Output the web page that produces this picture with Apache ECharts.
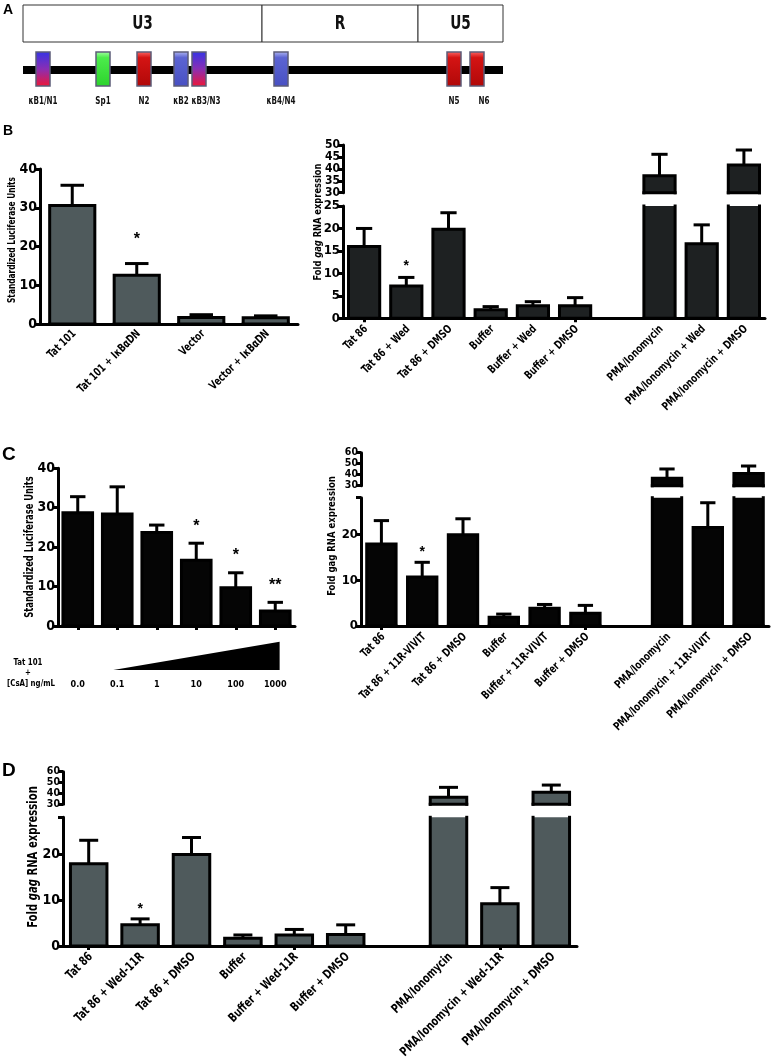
<!DOCTYPE html>
<html>
<head>
<meta charset="utf-8">
<script src="https://cdn.jsdelivr.net/npm/echarts@6/dist/echarts.min.js"></script>
<style>
  html, body { margin: 0; padding: 0; background: #fff; }
  #main { width: 772px; height: 1057px; }
</style>
</head>
<body>
<div id="main"></div>
<script>
const FONT = "'Liberation Sans Narrow', 'DejaVu Sans Condensed', 'Arial Narrow', Arial, sans-serif"
const NARROW = 0.82 // squeeze factor, the original uses a condensed face

// ---- A: LTR map (positions along the LTR, arbitrary units) ----
const ltrRegions = ['U3', 'R', 'U5']
const ltrStarts = [0, 239, 395]
const ltrEnds = [239, 395, 480]
const siteNames = ['κB1/N1', 'Sp1', 'N2', 'κB2', 'κB3/N3', 'κB4/N4', 'N5', 'N6']
const sitePos = [20, 80, 121, 158, 176, 258, 431, 454]
const siteKind = ['mix', 'sp1', 'nfat', 'kb', 'mix', 'kb', 'nfat', 'nfat']

// ---- B left ----
const bLeftCats = ['Tat 101', 'Tat 101 + IκBαDN', 'Vector', 'Vector + IκBαDN']
const bLeftMean = [30.6, 12.6, 1.7, 1.6]
const bLeftErr = [35.8, 15.6, 2.4, 2.1]
const bLeftSig = ['', '*', '', '']

// ---- B right ----
const bRightCats = ['Tat 86', 'Tat 86 + Wed', 'Tat 86 + DMSO', 'Buffer', 'Buffer + Wed', 'Buffer + DMSO', '', 'PMA/Ionomycin', 'PMA/Ionomycin + Wed', 'PMA/Ionomycin + DMSO']
const bRightMean = [16.0, 7.2, 19.8, 1.9, 2.8, 2.8, null, 37.1, 16.6, 41.6]
const bRightErr = [20.0, 9.1, 23.5, 2.6, 3.7, 4.6, null, 46.1, 20.8, 47.9]
const bRightSig = ['', '*', '', '', '', '', '', '', '', '']

// ---- C left (CsA dose) ----
const cLeftDoses = ['0.0', '0.1', '1', '10', '100', '1000']
const cLeftMean = [28.7, 28.4, 23.7, 16.7, 9.7, 3.8]
const cLeftErr = [32.8, 35.3, 25.6, 21.0, 13.5, 6.0]
const cLeftSig = ['', '', '', '*', '*', '**']
const rampFrom = 1
const rampTo = 5

// ---- C right ----
const cRightCats = ['Tat 86', 'Tat 86 + 11R-VIVIT', 'Tat 86 + DMSO', 'Buffer', 'Buffer + 11R-VIVIT', 'Buffer + DMSO', '', 'PMA/Ionomycin', 'PMA/Ionomycin + 11R-VIVIT', 'PMA/Ionomycin + DMSO']
const cRightMean = [17.9, 10.7, 19.9, 1.9, 3.9, 2.8, null, 36.7, 21.5, 41.2]
const cRightErr = [23.0, 13.9, 23.4, 2.6, 4.7, 4.5, null, 45.2, 26.9, 47.9]
const cRightSig = ['', '*', '', '', '', '', '', '', '', '']

// ---- D ----
const dCats = ['Tat 86', 'Tat 86 + Wed-11R', 'Tat 86 + DMSO', 'Buffer', 'Buffer + Wed-11R', 'Buffer + DMSO', '', 'PMA/Ionomycin', 'PMA/Ionomycin + Wed-11R', 'PMA/Ionomycin + DMSO']
const dMean = [17.9, 4.6, 19.9, 1.7, 2.4, 2.5, null, 36.4, 9.2, 41.0]
const dErr = [23.0, 5.9, 23.6, 2.4, 3.6, 4.6, null, 45.6, 12.7, 47.7]
const dSig = ['', '*', '', '', '', '', '', '', '', '']

const siteFill = {
  mix: [['0', '#3434e6'], ['0.5', '#8a2eb4'], ['1', '#f01634']],
  sp1: [['0', '#a8ffa8'], ['0.18', '#4cec4c'], ['1', '#2cd22c']],
  nfat: [['0', '#ff6a6a'], ['0.18', '#d41414'], ['1', '#b00808']],
  kb: [['0', '#b4baf4'], ['0.18', '#5c64d2'], ['1', '#4850c2']]
}
const grad = (stops) => ({
  type: 'linear', x: 0, y: 0, x2: 0, y2: 1,
  colorStops: stops.map(s => ({ offset: +s[0], color: s[1] }))
})

const chart = echarts.init(document.getElementById('main'), null, { renderer: 'canvas' })

function barItem(sigs, labels, opt) {
  return function (params, api) {
    const i = api.value(0)
    const cs = params.coordSys
    const top = cs.y, bot = cs.y + cs.height
    const base = api.coord([i, 0])
    const cx = base[0]
    const yb = base[1]
    const kids = []
    if (labels && labels[params.dataIndex]) {
      kids.push({
        type: 'text', x: cx + 2, y: yb + opt.labelGap, rotation: Math.PI / 4, scaleX: NARROW,
        style: { text: labels[params.dataIndex], align: 'right', verticalAlign: 'middle',
          fontFamily: FONT, fontWeight: 'bold', fontSize: opt.labelSize, fill: '#000' }
      })
    }
    const v = api.value(1)
    if (isNaN(v)) return { type: 'group', children: kids }
    const e = api.value(2)
    const w = api.size([1, 0])[0] * opt.ratio
    const yv = api.coord([i, v])[1]
    const ye = api.coord([i, e])[1]
    const L = cx - w / 2, R = cx + w / 2
    const ln = { stroke: '#000', lineWidth: opt.border, lineCap: 'square', lineJoin: 'miter' }
    const s0 = Math.max(yv, top), s1 = Math.min(yb, bot)
    if (s1 > s0) {
      kids.push({ type: 'rect', shape: { x: L, y: s0, width: w, height: s1 - s0 }, style: { fill: opt.color } })
      if (yv >= top) {
        kids.push({ type: 'polyline', shape: { points: [[L, s1], [L, yv], [R, yv], [R, s1]] }, style: Object.assign({ fill: null }, ln) })
      } else {
        kids.push({ type: 'line', shape: { x1: L, y1: s0, x2: L, y2: s1 }, style: ln })
        kids.push({ type: 'line', shape: { x1: R, y1: s0, x2: R, y2: s1 }, style: ln })
      }
      kids.push({ type: 'line', shape: { x1: L, y1: s1, x2: R, y2: s1 }, style: ln })
    }
    const e0 = Math.max(ye, top), e1 = Math.min(yv, bot)
    if (e1 > e0) {
      kids.push({ type: 'line', shape: { x1: cx, y1: e0, x2: cx, y2: e1 }, style: { stroke: '#000', lineWidth: opt.errW } })
    }
    if (ye >= top && ye <= bot) {
      kids.push({ type: 'line', shape: { x1: cx - w * 0.26, y1: ye, x2: cx + w * 0.26, y2: ye }, style: { stroke: '#000', lineWidth: opt.errW } })
      const s = sigs[params.dataIndex]
      if (s) {
        kids.push({ type: 'text', style: { text: s, x: cx, y: ye - opt.starGap, align: 'center', verticalAlign: 'middle', fontSize: opt.starSize, fontWeight: 'bold', fontFamily: 'Arial, sans-serif', fill: '#000' } })
      }
    }
    return { type: 'group', children: kids }
  }
}

function barSeries(gridIdx, means, errs, sigs, labels, opt) {
  return {
    type: 'custom',
    xAxisIndex: gridIdx, yAxisIndex: gridIdx,
    clip: false,
    renderItem: barItem(sigs, labels, opt),
    encode: { x: 0, y: 1 },
    data: means.map((m, i) => [i, m == null ? NaN : m, errs[i] == null ? NaN : errs[i]])
  }
}

function yAx(grid, min, max, interval, fontSize, labelExtra) {
  return {
    type: 'value', gridIndex: grid, min: min, max: max, interval: interval,
    axisLine: { show: true, lineStyle: { color: '#000', width: 3 } },
    axisTick: { show: true, length: 5, interval: 0, lineStyle: { color: '#000', width: 3 } },
    axisLabel: Object.assign({ color: '#000', fontFamily: FONT, fontWeight: 'bold', fontSize: fontSize, margin: 3,
      interval: 0, showMinLabel: true, showMaxLabel: true, hideOverlap: false }, labelExtra || {}),
    splitLine: { show: false }
  }
}

function xCat(grid, cats, extra) {
  return Object.assign({
    type: 'category', gridIndex: grid, data: cats,
    axisLine: { show: true, lineStyle: { color: '#000', width: 3 } },
    axisTick: { show: true, alignWithLabel: true, length: 4, lineStyle: { color: '#000', width: 3 } },
    axisLabel: { show: false },
    splitLine: { show: false }
  }, extra || {})
}

const hiddenX = (grid, cats) => ({ type: 'category', gridIndex: grid, data: cats, show: false })
const tenOnly = (v) => (v % 10 === 0 ? String(v) : '')

const vTitle = (text, x, y, size, sx, rich) => ({
  type: 'text', x: x, y: y, rotation: Math.PI / 2, scaleX: sx,
  style: Object.assign({
    text: text, align: 'center', verticalAlign: 'middle',
    fontFamily: FONT, fontWeight: 'bold', fontSize: size, fill: '#000'
  }, rich ? { rich: rich } : {})
})
const gagRich = (size, italic) => ({
  b: { fontFamily: FONT, fontWeight: 'bold', fontSize: size, fill: '#000' },
  i: { fontFamily: FONT, fontWeight: 'bold', fontStyle: italic ? 'italic' : 'normal', fontSize: size, fill: '#000' }
})
const GAG = '{b|Fold }{i|gag}{b| RNA expression}'

const letter = (t, x, y, size) => ({
  type: 'text', x: x, y: y,
  style: { text: t, fontFamily: 'Arial, sans-serif', fontWeight: 'bold', fontSize: size, fill: '#000', verticalAlign: 'middle' }
})
const smallText = (t, x, y) => ({
  type: 'text', x: x, y: y, scaleX: NARROW,
  style: { text: t, align: 'center', verticalAlign: 'middle', fontFamily: FONT, fontWeight: 'bold', fontSize: 9.5, fill: '#000' }
})

const bLeftOpt = { ratio: 0.7, color: '#4f5a5c', border: 3, errW: 3, starGap: 24, starSize: 16, labelSize: 11.5, labelGap: 8 }
const bRightOpt = { ratio: 0.74, color: '#1e2122', border: 3, errW: 3, starGap: 11, starSize: 14, labelSize: 11.5, labelGap: 9 }
const cLeftOpt = { ratio: 0.75, color: '#050505', border: 3, errW: 3, starGap: 17, starSize: 16 }
const cRightOpt = { ratio: 0.72, color: '#050505', border: 3, errW: 3, starGap: 10, starSize: 14, labelSize: 11.5, labelGap: 9 }
const dOpt = { ratio: 0.71, color: '#4f5a5c', border: 3, errW: 3, starGap: 10, starSize: 14, labelSize: 12.5, labelGap: 9 }

const option = {
  backgroundColor: '#fff',
  animation: false,
  grid: [
    { left: 23, top: 0, width: 480, height: 110 },
    { left: 40, top: 169, width: 258, height: 155 },
    { left: 343, top: 206, width: 422, height: 112.3 },
    { left: 343, top: 145, width: 422, height: 47.7 },
    { left: 58, top: 468.3, width: 237, height: 157.7 },
    { left: 58, top: 641.7, width: 237, height: 28.3 },
    { left: 361, top: 497.7, width: 408, height: 128.3 },
    { left: 361, top: 452.7, width: 408, height: 33 },
    { left: 63, top: 817.3, width: 514, height: 128.7 },
    { left: 63, top: 771.7, width: 514, height: 32.6 }
  ],
  xAxis: [
    { type: 'value', gridIndex: 0, min: 0, max: 480, show: false },
    xCat(1, bLeftCats, { axisTick: { show: false } }),
    xCat(2, bRightCats),
    hiddenX(3, bRightCats),
    xCat(4, cLeftDoses),
    { type: 'category', gridIndex: 5, data: cLeftDoses, axisLine: { show: false }, axisTick: { show: false },
      axisLabel: { color: '#000', fontFamily: FONT, fontWeight: 'bold', fontSize: 9, margin: 10, interval: 0 } },
    xCat(6, cRightCats),
    hiddenX(7, cRightCats),
    xCat(8, dCats),
    hiddenX(9, dCats)
  ],
  yAxis: [
    { type: 'value', gridIndex: 0, min: 0, max: 110, inverse: true, show: false },
    yAx(1, 0, 40, 10, 14),
    yAx(2, 0, 25, 5, 13),
    yAx(3, 30, 50, 5, 12, { lineHeight: 7 }),
    yAx(4, 0, 40, 10, 14),
    { type: 'value', gridIndex: 5, min: 0, max: 1, show: false },
    yAx(6, 0, 28, 10, 13, { formatter: tenOnly }),
    yAx(7, 30, 60, 10, 10.5, { lineHeight: 7 }),
    yAx(8, 0, 28, 10, 14, { formatter: tenOnly }),
    yAx(9, 30, 60, 10, 10.5, { lineHeight: 7 })
  ],
  series: [
    // LTR regions + backbone
    {
      type: 'custom', xAxisIndex: 0, yAxisIndex: 0, clip: false,
      data: ltrRegions.map((r, i) => [ltrStarts[i], ltrEnds[i]]),
      renderItem(params, api) {
        const a = api.coord([api.value(0), 5])
        const b = api.coord([api.value(1), 42])
        const kids = [{
          type: 'rect', shape: { x: a[0], y: a[1], width: b[0] - a[0], height: b[1] - a[1] },
          style: { fill: '#fff', stroke: '#333', lineWidth: 1 }
        }, {
          type: 'text', x: (a[0] + b[0]) / 2, y: (a[1] + b[1]) / 2 + 1, scaleX: 0.8,
          style: { text: ltrRegions[params.dataIndex], align: 'center', verticalAlign: 'middle',
            fontFamily: FONT, fontWeight: 'bold', fontSize: 19, fill: '#111' }
        }]
        if (params.dataIndex === 0) {
          const p = api.coord([ltrStarts[0], 70])
          const q = api.coord([ltrEnds[ltrEnds.length - 1], 70])
          kids.unshift({ type: 'line', shape: { x1: p[0], y1: p[1], x2: q[0], y2: q[1] }, style: { stroke: '#000', lineWidth: 8 } })
        }
        return { type: 'group', children: kids }
      }
    },
    // binding sites
    {
      type: 'custom', xAxisIndex: 0, yAxisIndex: 0, clip: false,
      data: sitePos.map(p => [p]),
      renderItem(params, api) {
        const i = params.dataIndex
        const c = api.coord([api.value(0), 52])
        const d = api.coord([api.value(0), 86])
        const w = 14
        // nudge a label right when its site sits right next to the previous one
        const crowded = i > 0 && sitePos[i] - sitePos[i - 1] < 25
        return {
          type: 'group', children: [{
            type: 'rect', shape: { x: c[0] - w / 2, y: c[1], width: w, height: d[1] - c[1] },
            style: { fill: grad(siteFill[siteKind[i]]), stroke: '#5c5c78', lineWidth: 1.5 }
          }, {
            type: 'text', x: c[0] + (crowded ? 7 : 0), y: api.coord([0, 101])[1], scaleX: 0.76,
            style: { text: siteNames[i], align: 'center', verticalAlign: 'middle',
              fontFamily: FONT, fontWeight: 'bold', fontSize: 10.5, fill: '#111' }
          }]
        }
      }
    },
    barSeries(1, bLeftMean, bLeftErr, bLeftSig, bLeftCats, bLeftOpt),
    barSeries(2, bRightMean, bRightErr, bRightSig, bRightCats, bRightOpt),
    barSeries(3, bRightMean, bRightErr, bRightSig, null, bRightOpt),
    barSeries(4, cLeftMean, cLeftErr, cLeftSig, null, cLeftOpt),
    // CsA dose ramp
    {
      type: 'custom', xAxisIndex: 5, yAxisIndex: 5, clip: false,
      data: [[rampFrom, rampTo]],
      renderItem(params, api) {
        const band = api.size([1, 0])[0]
        const p0 = api.coord([api.value(0), 0])
        const p1 = api.coord([api.value(1), 0])
        const p2 = api.coord([api.value(1), 1])
        return {
          type: 'polygon',
          shape: { points: [[p0[0] - band * 0.1, p0[1]], [p1[0] + band * 0.11, p1[1]], [p2[0] + band * 0.11, p2[1]]] },
          style: { fill: '#000' }
        }
      }
    },
    barSeries(6, cRightMean, cRightErr, cRightSig, cRightCats, cRightOpt),
    barSeries(7, cRightMean, cRightErr, cRightSig, null, cRightOpt),
    barSeries(8, dMean, dErr, dSig, dCats, dOpt),
    barSeries(9, dMean, dErr, dSig, null, dOpt)
  ],
  graphic: [
    letter('A', 3, 10, 14),
    letter('B', 3, 131, 14),
    letter('C', 2, 455, 19),
    letter('D', 2, 771, 19),
    vTitle('Standardized Luciferase Units', 12, 240, 11, 0.75),
    vTitle('Standardized Luciferase Units', 30, 547, 12.5, 0.74),
    vTitle(GAG, 318, 222, 10.5, 0.88, gagRich(10.5, true)),
    vTitle(GAG, 332, 536, 11, 0.86, gagRich(11, false)),
    vTitle(GAG, 33, 857, 14, 0.8, gagRich(14, true)),
    smallText('Tat 101', 28, 663),
    smallText('+', 28, 673),
    smallText('[CsA] ng/mL', 31, 684)
  ]
}

chart.setOption(option)
</script>
</body>
</html>
